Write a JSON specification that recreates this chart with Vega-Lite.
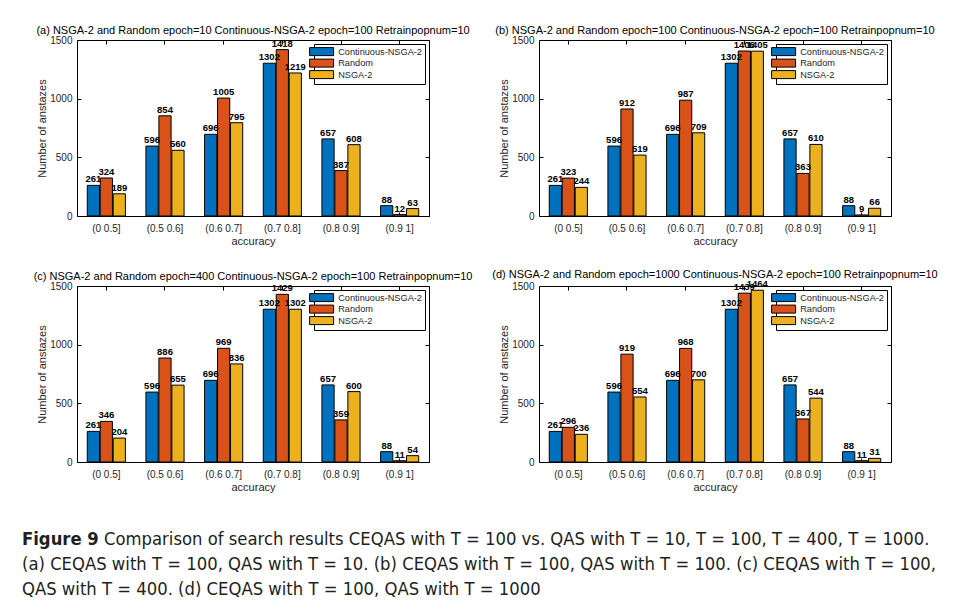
{
  "$schema": "https://vega.github.io/schema/vega-lite/v6.json",
  "background": "white",
  "padding": {"left": 22, "top": 24, "right": 0, "bottom": 0},
  "datasets": {
    "counts": [
      {"panel": "a", "bin": "(0 0.5]", "method": "Continuous-NSGA-2", "count": 261},
      {"panel": "a", "bin": "(0 0.5]", "method": "Random", "count": 324},
      {"panel": "a", "bin": "(0 0.5]", "method": "NSGA-2", "count": 189},
      {"panel": "a", "bin": "(0.5 0.6]", "method": "Continuous-NSGA-2", "count": 596},
      {"panel": "a", "bin": "(0.5 0.6]", "method": "Random", "count": 854},
      {"panel": "a", "bin": "(0.5 0.6]", "method": "NSGA-2", "count": 560},
      {"panel": "a", "bin": "(0.6 0.7]", "method": "Continuous-NSGA-2", "count": 696},
      {"panel": "a", "bin": "(0.6 0.7]", "method": "Random", "count": 1005},
      {"panel": "a", "bin": "(0.6 0.7]", "method": "NSGA-2", "count": 795},
      {"panel": "a", "bin": "(0.7 0.8]", "method": "Continuous-NSGA-2", "count": 1302},
      {"panel": "a", "bin": "(0.7 0.8]", "method": "Random", "count": 1418},
      {"panel": "a", "bin": "(0.7 0.8]", "method": "NSGA-2", "count": 1219},
      {"panel": "a", "bin": "(0.8 0.9]", "method": "Continuous-NSGA-2", "count": 657},
      {"panel": "a", "bin": "(0.8 0.9]", "method": "Random", "count": 387},
      {"panel": "a", "bin": "(0.8 0.9]", "method": "NSGA-2", "count": 608},
      {"panel": "a", "bin": "(0.9 1]", "method": "Continuous-NSGA-2", "count": 88},
      {"panel": "a", "bin": "(0.9 1]", "method": "Random", "count": 12},
      {"panel": "a", "bin": "(0.9 1]", "method": "NSGA-2", "count": 63},

      {"panel": "b", "bin": "(0 0.5]", "method": "Continuous-NSGA-2", "count": 261},
      {"panel": "b", "bin": "(0 0.5]", "method": "Random", "count": 323},
      {"panel": "b", "bin": "(0 0.5]", "method": "NSGA-2", "count": 244},
      {"panel": "b", "bin": "(0.5 0.6]", "method": "Continuous-NSGA-2", "count": 596},
      {"panel": "b", "bin": "(0.5 0.6]", "method": "Random", "count": 912},
      {"panel": "b", "bin": "(0.5 0.6]", "method": "NSGA-2", "count": 519},
      {"panel": "b", "bin": "(0.6 0.7]", "method": "Continuous-NSGA-2", "count": 696},
      {"panel": "b", "bin": "(0.6 0.7]", "method": "Random", "count": 987},
      {"panel": "b", "bin": "(0.6 0.7]", "method": "NSGA-2", "count": 709},
      {"panel": "b", "bin": "(0.7 0.8]", "method": "Continuous-NSGA-2", "count": 1302},
      {"panel": "b", "bin": "(0.7 0.8]", "method": "Random", "count": 1406},
      {"panel": "b", "bin": "(0.7 0.8]", "method": "NSGA-2", "count": 1405},
      {"panel": "b", "bin": "(0.8 0.9]", "method": "Continuous-NSGA-2", "count": 657},
      {"panel": "b", "bin": "(0.8 0.9]", "method": "Random", "count": 363},
      {"panel": "b", "bin": "(0.8 0.9]", "method": "NSGA-2", "count": 610},
      {"panel": "b", "bin": "(0.9 1]", "method": "Continuous-NSGA-2", "count": 88},
      {"panel": "b", "bin": "(0.9 1]", "method": "Random", "count": 9},
      {"panel": "b", "bin": "(0.9 1]", "method": "NSGA-2", "count": 66},

      {"panel": "c", "bin": "(0 0.5]", "method": "Continuous-NSGA-2", "count": 261},
      {"panel": "c", "bin": "(0 0.5]", "method": "Random", "count": 346},
      {"panel": "c", "bin": "(0 0.5]", "method": "NSGA-2", "count": 204},
      {"panel": "c", "bin": "(0.5 0.6]", "method": "Continuous-NSGA-2", "count": 596},
      {"panel": "c", "bin": "(0.5 0.6]", "method": "Random", "count": 886},
      {"panel": "c", "bin": "(0.5 0.6]", "method": "NSGA-2", "count": 655},
      {"panel": "c", "bin": "(0.6 0.7]", "method": "Continuous-NSGA-2", "count": 696},
      {"panel": "c", "bin": "(0.6 0.7]", "method": "Random", "count": 969},
      {"panel": "c", "bin": "(0.6 0.7]", "method": "NSGA-2", "count": 836},
      {"panel": "c", "bin": "(0.7 0.8]", "method": "Continuous-NSGA-2", "count": 1302},
      {"panel": "c", "bin": "(0.7 0.8]", "method": "Random", "count": 1429},
      {"panel": "c", "bin": "(0.7 0.8]", "method": "NSGA-2", "count": 1302},
      {"panel": "c", "bin": "(0.8 0.9]", "method": "Continuous-NSGA-2", "count": 657},
      {"panel": "c", "bin": "(0.8 0.9]", "method": "Random", "count": 359},
      {"panel": "c", "bin": "(0.8 0.9]", "method": "NSGA-2", "count": 600},
      {"panel": "c", "bin": "(0.9 1]", "method": "Continuous-NSGA-2", "count": 88},
      {"panel": "c", "bin": "(0.9 1]", "method": "Random", "count": 11},
      {"panel": "c", "bin": "(0.9 1]", "method": "NSGA-2", "count": 54},

      {"panel": "d", "bin": "(0 0.5]", "method": "Continuous-NSGA-2", "count": 261},
      {"panel": "d", "bin": "(0 0.5]", "method": "Random", "count": 296},
      {"panel": "d", "bin": "(0 0.5]", "method": "NSGA-2", "count": 236},
      {"panel": "d", "bin": "(0.5 0.6]", "method": "Continuous-NSGA-2", "count": 596},
      {"panel": "d", "bin": "(0.5 0.6]", "method": "Random", "count": 919},
      {"panel": "d", "bin": "(0.5 0.6]", "method": "NSGA-2", "count": 554},
      {"panel": "d", "bin": "(0.6 0.7]", "method": "Continuous-NSGA-2", "count": 696},
      {"panel": "d", "bin": "(0.6 0.7]", "method": "Random", "count": 968},
      {"panel": "d", "bin": "(0.6 0.7]", "method": "NSGA-2", "count": 700},
      {"panel": "d", "bin": "(0.7 0.8]", "method": "Continuous-NSGA-2", "count": 1302},
      {"panel": "d", "bin": "(0.7 0.8]", "method": "Random", "count": 1439},
      {"panel": "d", "bin": "(0.7 0.8]", "method": "NSGA-2", "count": 1464},
      {"panel": "d", "bin": "(0.8 0.9]", "method": "Continuous-NSGA-2", "count": 657},
      {"panel": "d", "bin": "(0.8 0.9]", "method": "Random", "count": 367},
      {"panel": "d", "bin": "(0.8 0.9]", "method": "NSGA-2", "count": 544},
      {"panel": "d", "bin": "(0.9 1]", "method": "Continuous-NSGA-2", "count": 88},
      {"panel": "d", "bin": "(0.9 1]", "method": "Random", "count": 11},
      {"panel": "d", "bin": "(0.9 1]", "method": "NSGA-2", "count": 31}
    ],
    "caption": [
      {"line": 1, "part": "head", "text": "Figure 9"},
      {"line": 1, "part": "rest", "text": "Comparison of search results CEQAS with T = 100 vs. QAS with T = 10, T = 100, T = 400, T = 1000."},
      {"line": 2, "part": "body", "text": "(a) CEQAS with T = 100, QAS with T = 10. (b) CEQAS with T = 100, QAS with T = 100. (c) CEQAS with T = 100,"},
      {"line": 3, "part": "body", "text": "QAS with T = 400. (d) CEQAS with T = 100, QAS with T = 1000"}
    ]
  },
  "concat": [
    {
      "title": "(a) NSGA-2 and Random epoch=10 Continuous-NSGA-2 epoch=100 Retrainpopnum=10",
      "width": 352, "height": 176,
      "data": {"name": "counts"},
      "transform": [{"filter": "datum.panel == 'a'"}],
      "encoding": {
        "x": {"field": "bin", "type": "nominal", "sort": null, "title": "accuracy",
              "scale": {"paddingInner": 0.35, "paddingOuter": 0.175}},
        "xOffset": {"field": "method", "sort": ["Continuous-NSGA-2", "Random", "NSGA-2"], "scale": {"paddingInner": 0.06}},
        "y": {"field": "count", "type": "quantitative", "title": "Number of anstazes",
              "scale": {"domain": [0, 1500], "nice": false}, "axis": {"values": [0, 500, 1000, 1500], "format": "d"}}
      },
      "layer": [
        {
          "mark": {"type": "bar", "stroke": "black", "strokeWidth": 1},
          "encoding": {
            "color": {"field": "method", "type": "nominal", "sort": ["Continuous-NSGA-2", "Random", "NSGA-2"],
                      "scale": {"domain": ["Continuous-NSGA-2", "Random", "NSGA-2"], "range": ["#0072BD", "#D95319", "#EDB120"]}}
          }
        },
        {
          "mark": {"type": "text", "baseline": "bottom", "dy": -1, "fontWeight": "bold", "fontSize": 9.5, "font": "Liberation Sans", "color": "black"},
          "encoding": {
            "text": {"field": "count"},
            "x": {"field": "bin", "type": "nominal", "sort": null, "axis": {"orient": "top", "labels": false, "title": null}},
            "y": {"field": "count", "type": "quantitative", "axis": {"orient": "right", "labels": false, "title": null, "values": [0, 500, 1000, 1500]}}
          }
        }
      ],
      "resolve": {"axis": {"x": "independent", "y": "independent"}}
    },
    {
      "title": "(b) NSGA-2 and Random epoch=100 Continuous-NSGA-2 epoch=100 Retrainpopnum=10",
      "width": 352, "height": 176,
      "data": {"name": "counts"},
      "transform": [{"filter": "datum.panel == 'b'"}],
      "encoding": {
        "x": {"field": "bin", "type": "nominal", "sort": null, "title": "accuracy",
              "scale": {"paddingInner": 0.35, "paddingOuter": 0.175}},
        "xOffset": {"field": "method", "sort": ["Continuous-NSGA-2", "Random", "NSGA-2"], "scale": {"paddingInner": 0.06}},
        "y": {"field": "count", "type": "quantitative", "title": "Number of anstazes",
              "scale": {"domain": [0, 1500], "nice": false}, "axis": {"values": [0, 500, 1000, 1500], "format": "d"}}
      },
      "layer": [
        {
          "mark": {"type": "bar", "stroke": "black", "strokeWidth": 1},
          "encoding": {
            "color": {"field": "method", "type": "nominal", "sort": ["Continuous-NSGA-2", "Random", "NSGA-2"],
                      "scale": {"domain": ["Continuous-NSGA-2", "Random", "NSGA-2"], "range": ["#0072BD", "#D95319", "#EDB120"]}}
          }
        },
        {
          "mark": {"type": "text", "baseline": "bottom", "dy": -1, "fontWeight": "bold", "fontSize": 9.5, "font": "Liberation Sans", "color": "black"},
          "encoding": {
            "text": {"field": "count"},
            "x": {"field": "bin", "type": "nominal", "sort": null, "axis": {"orient": "top", "labels": false, "title": null}},
            "y": {"field": "count", "type": "quantitative", "axis": {"orient": "right", "labels": false, "title": null, "values": [0, 500, 1000, 1500]}}
          }
        }
      ],
      "resolve": {"axis": {"x": "independent", "y": "independent"}}
    },
    {
      "title": "(c) NSGA-2 and Random epoch=400 Continuous-NSGA-2 epoch=100 Retrainpopnum=10",
      "width": 352, "height": 176,
      "data": {"name": "counts"},
      "transform": [{"filter": "datum.panel == 'c'"}],
      "encoding": {
        "x": {"field": "bin", "type": "nominal", "sort": null, "title": "accuracy",
              "scale": {"paddingInner": 0.35, "paddingOuter": 0.175}},
        "xOffset": {"field": "method", "sort": ["Continuous-NSGA-2", "Random", "NSGA-2"], "scale": {"paddingInner": 0.06}},
        "y": {"field": "count", "type": "quantitative", "title": "Number of anstazes",
              "scale": {"domain": [0, 1500], "nice": false}, "axis": {"values": [0, 500, 1000, 1500], "format": "d"}}
      },
      "layer": [
        {
          "mark": {"type": "bar", "stroke": "black", "strokeWidth": 1},
          "encoding": {
            "color": {"field": "method", "type": "nominal", "sort": ["Continuous-NSGA-2", "Random", "NSGA-2"],
                      "scale": {"domain": ["Continuous-NSGA-2", "Random", "NSGA-2"], "range": ["#0072BD", "#D95319", "#EDB120"]}}
          }
        },
        {
          "mark": {"type": "text", "baseline": "bottom", "dy": -1, "fontWeight": "bold", "fontSize": 9.5, "font": "Liberation Sans", "color": "black"},
          "encoding": {
            "text": {"field": "count"},
            "x": {"field": "bin", "type": "nominal", "sort": null, "axis": {"orient": "top", "labels": false, "title": null}},
            "y": {"field": "count", "type": "quantitative", "axis": {"orient": "right", "labels": false, "title": null, "values": [0, 500, 1000, 1500]}}
          }
        }
      ],
      "resolve": {"axis": {"x": "independent", "y": "independent"}}
    },
    {
      "title": "(d) NSGA-2 and Random epoch=1000 Continuous-NSGA-2 epoch=100 Retrainpopnum=10",
      "width": 352, "height": 176,
      "data": {"name": "counts"},
      "transform": [{"filter": "datum.panel == 'd'"}],
      "encoding": {
        "x": {"field": "bin", "type": "nominal", "sort": null, "title": "accuracy",
              "scale": {"paddingInner": 0.35, "paddingOuter": 0.175}},
        "xOffset": {"field": "method", "sort": ["Continuous-NSGA-2", "Random", "NSGA-2"], "scale": {"paddingInner": 0.06}},
        "y": {"field": "count", "type": "quantitative", "title": "Number of anstazes",
              "scale": {"domain": [0, 1500], "nice": false}, "axis": {"values": [0, 500, 1000, 1500], "format": "d"}}
      },
      "layer": [
        {
          "mark": {"type": "bar", "stroke": "black", "strokeWidth": 1},
          "encoding": {
            "color": {"field": "method", "type": "nominal", "sort": ["Continuous-NSGA-2", "Random", "NSGA-2"],
                      "scale": {"domain": ["Continuous-NSGA-2", "Random", "NSGA-2"], "range": ["#0072BD", "#D95319", "#EDB120"]}}
          }
        },
        {
          "mark": {"type": "text", "baseline": "bottom", "dy": -1, "fontWeight": "bold", "fontSize": 9.5, "font": "Liberation Sans", "color": "black"},
          "encoding": {
            "text": {"field": "count"},
            "x": {"field": "bin", "type": "nominal", "sort": null, "axis": {"orient": "top", "labels": false, "title": null}},
            "y": {"field": "count", "type": "quantitative", "axis": {"orient": "right", "labels": false, "title": null, "values": [0, 500, 1000, 1500]}}
          }
        }
      ],
      "resolve": {"axis": {"x": "independent", "y": "independent"}}
    },
    {
      "width": 352, "height": 65,
      "view": {"stroke": null},
      "data": {"name": "caption"},
      "encoding": {
        "x": {"value": 0},
        "y": {"field": "line", "type": "ordinal", "axis": null, "scale": {"padding": 0.3}},
        "text": {"field": "text"}
      },
      "layer": [
        {
          "transform": [{"filter": "datum.part == 'head'"}],
          "mark": {"type": "text", "align": "left", "baseline": "middle", "dx": -55, "font": "DejaVu Sans Condensed", "fontSize": 18.3, "fontWeight": "bold", "color": "#231f20"}
        },
        {
          "transform": [{"filter": "datum.part == 'rest'"}],
          "mark": {"type": "text", "align": "left", "baseline": "middle", "dx": 27, "font": "DejaVu Sans Condensed", "fontSize": 18.3, "color": "#231f20"}
        },
        {
          "transform": [{"filter": "datum.part == 'body'"}],
          "mark": {"type": "text", "align": "left", "baseline": "middle", "dx": -55, "font": "DejaVu Sans Condensed", "fontSize": 18.3, "color": "#231f20"}
        }
      ]
    }
  ],
  "columns": 2,
  "spacing": {"row": 70, "column": 110},
  "bounds": "flush",
  "resolve": {"scale": {"color": "independent"}, "legend": {"color": "independent"}},
  "config": {
    "font": "Liberation Sans",
    "view": {"stroke": "black", "strokeWidth": 1},
    "title": {"fontSize": 11, "fontWeight": "normal", "font": "Liberation Sans", "color": "#000000", "offset": -1},
    "axis": {
      "labelFont": "Liberation Sans", "labelFontSize": 10, "labelColor": "#262626",
      "titleFont": "Liberation Sans", "titleFontSize": 11, "titleFontWeight": "normal", "titleColor": "#262626",
      "domain": false, "grid": false, "tickColor": "#000000", "tickSize": -4, "labelAngle": 0
    },
    "axisY": {"titlePadding": 2, "labelPadding": 9},
    "axisX": {"titlePadding": 2, "labelPadding": 11},
    "legend": {
      "orient": "top-right", "offset": 4, "title": null,
      "labelFont": "Liberation Sans", "labelFontSize": 9.2, "labelColor": "#262626",
      "symbolType": "M-3,-1H3V1H-3Z", "symbolSize": 64,
      "symbolStrokeColor": "black", "symbolStrokeWidth": 1, "symbolOpacity": 1,
      "fillColor": "white", "strokeColor": "black", "padding": 3, "rowPadding": -1.5, "labelOffset": 12
    }
  }
}
